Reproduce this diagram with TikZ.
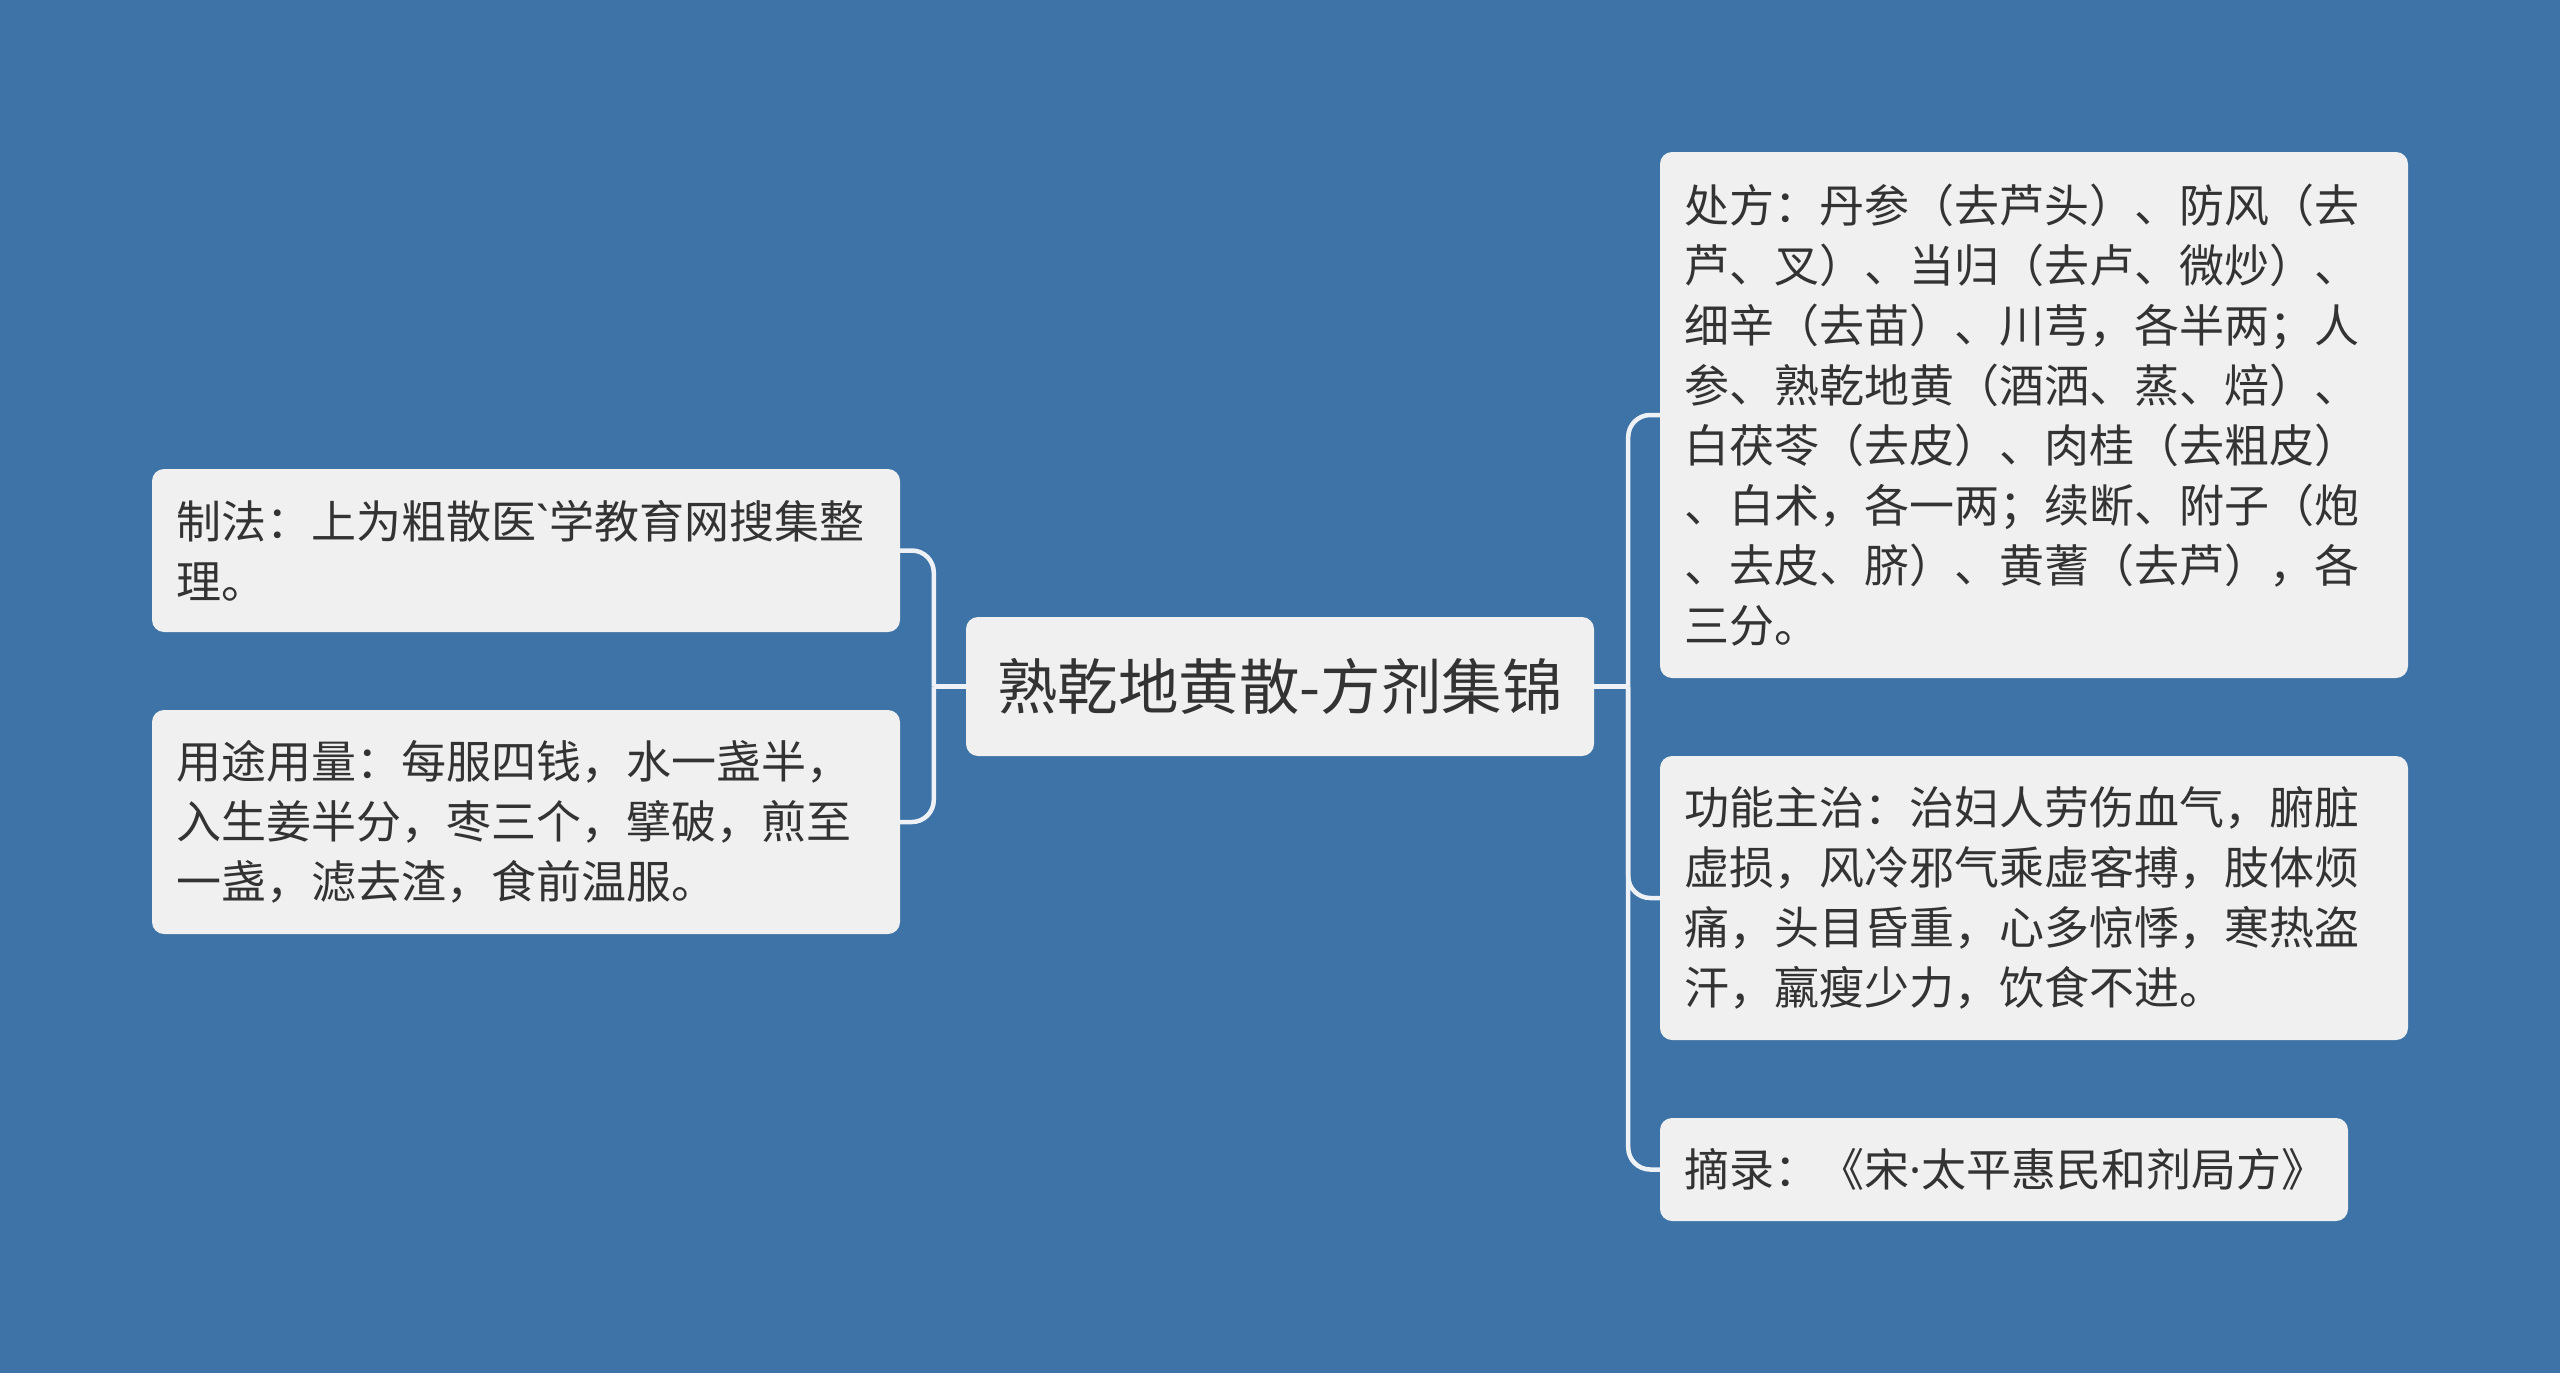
\documentclass[tikz,border=0pt]{standalone}
\usepackage{fontspec}
\usepackage{xcolor}
\usepackage{tikz}
\newfontfamily\cjk{Noto Sans CJK SC}
\newfontfamily\latin{Noto Sans}
\definecolor{bgblue}{HTML}{3D73A6}
\definecolor{boxgray}{HTML}{F0F0F0}
\definecolor{txtgray}{HTML}{333333}
\definecolor{linkwhite}{HTML}{EEF2F6}

\begin{document}
\begin{tikzpicture}[x=1pt, y=-1pt,
  box/.style={fill=boxgray, text=txtgray, rounded corners=12pt, inner xsep=24.5pt, inner ysep=0pt,
    align=left, font=\cjk\fontsize{45}{60}\selectfont},
  link/.style={draw=linkwhite, line width=4.5pt, rounded corners=22pt}]
\useasboundingbox (0,0) rectangle (2560,1373);
\fill[bgblue] (0,0) rectangle (2560,1373);

\node[box, align=center, inner xsep=0pt, minimum width=628pt, minimum height=139pt,
  font=\cjk\fontsize{60.5}{72}\selectfont] (root) at (1280,686.5) {熟乾地黄散-方剂集锦};

\node[box, text width=699pt, minimum height=163pt] (zhifa) at (526,550.5)
  {制法：上为粗散医{\latin`}学教育网搜集整\\理。};
\node[box, text width=699pt, minimum height=224pt] (yongtu) at (526,822)
  {用途用量：每服四钱，水一盏半，\\入生姜半分，枣三个，擘破，煎至\\一盏，滤去渣，食前温服。};

\node[box, text width=699pt, minimum height=526pt] (chufang) at (2034,415)
  {处方：丹参（去芦头）、防风（去\\芦、叉）、当归（去卢、微炒）、\\细辛（去苗）、川芎，各半两；人\\参、熟乾地黄（酒洒、蒸、焙）、\\白茯苓（去皮）、肉桂（去粗皮）\\、白术，各一两；续断、附子（炮\\、去皮、脐）、黄蓍（去芦），各\\三分。};
\node[box, text width=699pt, minimum height=284pt] (gongneng) at (2034,898)
  {功能主治：治妇人劳伤血气，腑脏\\虚损，风冷邪气乘虚客搏，肢体烦\\痛，头目昏重，心多惊悸，寒热盗\\汗，羸瘦少力，饮食不进。};
\node[box, text width=639pt, minimum height=103pt] (zhailu) at (2004,1169.5)
  {摘录：《宋{\latin·}太平惠民和剂局方》};

% connectors
\draw[link] (root.west) -- ++(-32,0) coordinate (lj);
\draw[link] (lj) |- (zhifa.east);
\draw[link] (lj) |- (yongtu.east);
\draw[link] (root.east) -- ++(34,0) coordinate (rj);
\draw[link] (rj) |- (chufang.west);
\draw[link] (rj) |- (gongneng.west);
\draw[link] (rj) |- (zhailu.west);
\end{tikzpicture}
\end{document}
